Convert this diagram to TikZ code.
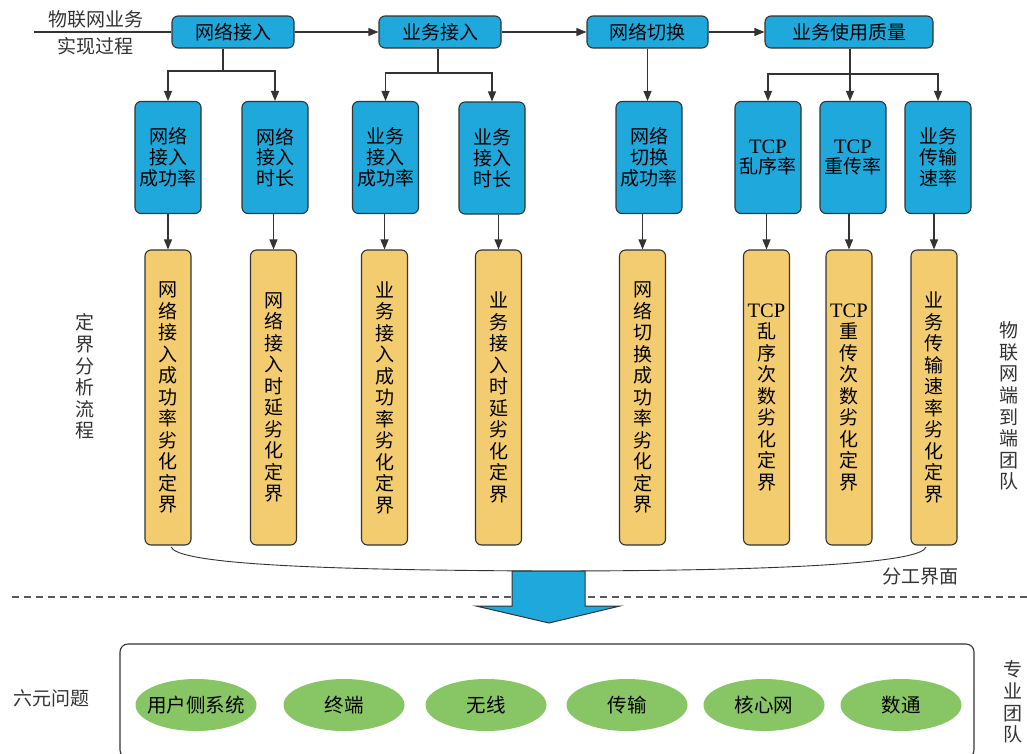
\documentclass[tikz,border=0pt]{standalone}
\usepackage{fontspec}
\setmainfont{Noto Sans CJK SC}
\newfontfamily\tcp{Liberation Serif}
\usetikzlibrary{arrows.meta,shapes.geometric}
\definecolor{bblue}{HTML}{1FA8DC}
\definecolor{byel}{HTML}{F4CC70}
\definecolor{bgreen}{HTML}{88C565}
\definecolor{edge}{HTML}{333333}
\newcommand{\TCP}{{\fontsize{20.5}{21}\selectfont\tcp TCP}}
\newcommand{\zb}[1]{\makebox[0pt]{#1}}
\begin{document}
\begin{tikzpicture}[x=1pt,y=-1pt,
 topbox/.style={draw=edge, fill=bblue, rounded corners=6pt, line width=1.1pt, minimum height=32pt, inner sep=0pt, font=\fontsize{19}{21}\selectfont},
 midbox/.style={draw=edge, fill=bblue, rounded corners=6pt, line width=1.1pt, minimum width=66pt, minimum height=112pt, inner sep=0pt, align=center, font=\fontsize{19}{20.8}\selectfont},
 ybox/.style={draw=edge, fill=byel, rounded corners=6pt, line width=1.1pt, minimum width=46pt, minimum height=295pt, inner sep=0pt, align=center, font=\fontsize{19}{21.5}\selectfont},
 oval/.style={ellipse, fill=bgreen, minimum width=121pt, minimum height=52pt, inner sep=0pt, font=\fontsize{19.5}{21}\selectfont},
 conn/.style={line width=1.1pt, draw=edge},
 arr/.style={conn, -{Triangle[length=10pt,width=8pt]}},
 lbl/.style={font=\fontsize{19}{21.6}\selectfont, text=black!80, align=center, inner sep=0pt},
]
\useasboundingbox (0,0) rectangle (1027,753);

% top row
\node[topbox, minimum width=122pt] (t1) at (233,32) {网络接入};
\node[topbox, minimum width=122pt] (t2) at (440,32) {业务接入};
\node[topbox, minimum width=121pt] (t3) at (647.5,32) {网络切换};
\node[topbox, minimum width=168pt] (t4) at (849,32) {业务使用质量};

\coordinate (start) at (34,32);
\draw[conn] (start) -- (t1.west);
\draw[arr] (t1) -- (t2);
\draw[arr] (t2) -- (t3);
\draw[arr] (t3) -- (t4);

\node[lbl] (l1) at (96,19) {物联网业务};
\node[lbl] (l2) at (95,46) {实现过程};

% middle row
\node[midbox] (m1) at (168,157.5) {网络\\接入\\成功率};
\node[midbox] (m2) at (275,157.5) {网络\\接入\\时长};
\node[midbox] (m3) at (385.5,157.5) {业务\\接入\\成功率};
\node[midbox] (m4) at (492,158) {业务\\接入\\时长};
\node[midbox] (m5) at (649,157.5) {网络\\切换\\成功率};
\node[midbox] (m6) at (768,157.5) {\TCP\\乱序率};
\node[midbox] (m7) at (853,157.5) {\TCP\\重传率};
\node[midbox] (m8) at (938,157.5) {业务\\传输\\速率};

% branches
\coordinate (b1) at (223,71);
\coordinate (b2) at (438,73);
\coordinate (b4) at (850,74);
\draw[conn] (t1.south -| b1) -- (b1);
\draw[arr] (b1) -| (m1.north);
\draw[arr] (b1) -| (m2.north);
\draw[conn] (t2.south -| b2) -- (b2);
\draw[arr] (b2) -| (m3.north);
\draw[arr] (b2) -| (m4.north);
\draw[arr] (t3.south) -- (t3.south |- m5.north);
\draw[arr] (t4.south -| b4) -- (b4 |- m7.north);
\draw[arr] (b4) -| (m6.north);
\draw[arr] (b4) -| (m8.north);

% yellow row
\node[ybox] (y1) at (168,397.5) {网\\络\\接\\入\\成\\功\\率\\劣\\化\\定\\界};
\node[ybox] (y2) at (273.5,397.5) {网\\络\\接\\入\\时\\延\\劣\\化\\定\\界};
\node[ybox] (y3) at (384.5,397.5) {业\\务\\接\\入\\成\\功\\率\\劣\\化\\定\\界};
\node[ybox] (y4) at (498.5,397.5) {业\\务\\接\\入\\时\\延\\劣\\化\\定\\界};
\node[ybox] (y5) at (642.5,397.5) {网\\络\\切\\换\\成\\功\\率\\劣\\化\\定\\界};
\node[ybox] (y6) at (766.5,397.5) {\TCP\\乱\\序\\次\\数\\劣\\化\\定\\界};
\node[ybox] (y7) at (849,397.5) {\TCP\\重\\传\\次\\数\\劣\\化\\定\\界};
\node[ybox] (y8) at (934,397.5) {业\\务\\传\\输\\速\\率\\劣\\化\\定\\界};

\foreach \i in {1,...,8} {
  \draw[arr] (m\i.south -| y\i.north) -- (y\i.north);
}

\node[lbl] (l3) at (85,376.5) {定\\界\\分\\析\\流\\程};
\node[lbl] (l4) at (1009,406) {物\\联\\网\\端\\到\\端\\团\\队};

% interface curve
\coordinate (cL) at (171,547);
\coordinate (cR) at (926,547);
\draw[conn, line width=0.9pt] (cL) .. controls (178,563) and (300,570) .. (545,571) .. controls (800,571) and (922,562) .. (cR);
\node[lbl] (l7) at (920,576) {分工界面};

% dashed divider
\coordinate (dl) at (12,597);
\coordinate (dr) at (1027,597);
\draw[line width=1.1pt, draw=black!65, dash pattern=on 7pt off 5pt] (dl) -- (dr);

% big arrow
\draw[line width=1pt, draw=edge, fill=bblue] (512,571) -- (585,571) -- (585,606) -- (620,606) -- (549,623) -- (476,606) -- (512,606) -- cycle;

% bottom box
\draw[conn, rounded corners=8pt] (120,644) rectangle (974,758);
\node[oval] (o1) at (196,705) {\zb{用户侧系统}};
\node[oval] (o2) at (344,705) {\zb{终端}};
\node[oval] (o3) at (486,705) {\zb{无线}};
\node[oval] (o4) at (627,705) {\zb{传输}};
\node[oval] (o5) at (764,705) {\zb{核心网}};
\node[oval] (o6) at (901,705) {\zb{数通}};

\node[lbl] (l6) at (51,698) {六元问题};
\node[lbl] (l5) at (1013,702) {专\\业\\团\\队};
\end{tikzpicture}
\end{document}
